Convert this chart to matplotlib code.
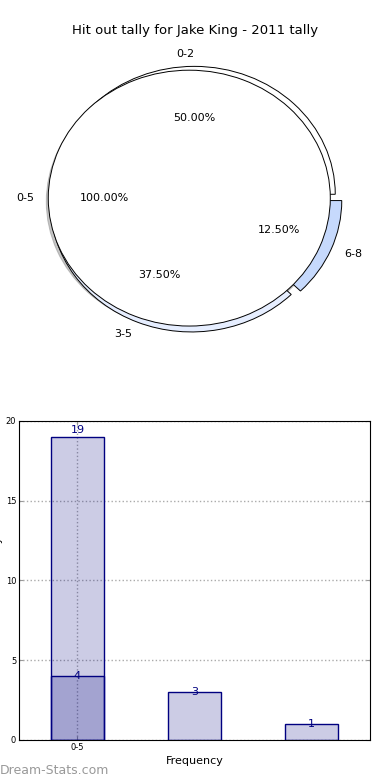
import numpy as np
import matplotlib
matplotlib.use('Agg')
import matplotlib.pyplot as plt

# pie data
pie_labels = ['0-2', '3-5', '6-8']
pie_values = [50.0, 37.5, 12.5]
pie_colors = ['#ffffff', '#e6eeff', '#c6d9fc']
pie_explode = [0.03, 0.05, 0.05]

total_labels = ['0-5']
total_values = [100.0]

# bar data
bar_pos = [0, 1, 2]
bar_light = [19, 3, 1]
bar_dark_pos = [0]
bar_dark = [4]
tick_labels = ['0-5']

fig = plt.figure(figsize=(3.9, 7.8), dpi=100)
fig.text(0.5, 0.961, 'Hit out tally for Jake King - 2011 tally', ha='center', va='center', fontsize=9.5)

# ---- pie ----
ax1 = fig.add_axes([0.046, 0.541, 0.904, 0.410])
w1, t1, a1 = ax1.pie(pie_values, labels=pie_labels, colors=pie_colors, explode=pie_explode,
                     autopct='%1.2f%%', startangle=0, radius=1.0,
                     wedgeprops=dict(edgecolor='black', linewidth=0.7),
                     textprops=dict(fontsize=8))
w2, t2, a2 = ax1.pie(total_values, labels=total_labels, colors=['white'], explode=[0.035],
                     autopct='%1.2f%%', startangle=0, radius=1.0,
                     shadow=dict(ox=-0.01, oy=-0.02, shade=0.45),
                     wedgeprops=dict(edgecolor='black', linewidth=0.7),
                     textprops=dict(fontsize=8))
ax1.set_aspect('auto')
ax1.set_xlim(-1.25, 1.25)
ax1.set_ylim(-1.25, 1.25)

# ---- bars ----
ax2 = fig.add_axes([0.0487, 0.0513, 0.9, 0.409])
ax2.bar(bar_pos, bar_light, width=0.45, color='navy', alpha=0.2, zorder=2)
ax2.bar(bar_pos, bar_light, width=0.45, fill=False, edgecolor='navy', linewidth=1.0, zorder=3)
ax2.bar(bar_dark_pos, bar_dark, width=0.45, color='navy', alpha=0.2, zorder=2)
ax2.bar(bar_dark_pos, bar_dark, width=0.45, fill=False, edgecolor='navy', linewidth=1.0, zorder=3)

for x, v in zip(bar_pos, bar_light):
    top = v == max(bar_light)
    ax2.text(x, v + (0.15 if top else 0.0), str(v), ha='center',
             va='bottom' if top else 'center', color='navy', fontsize=8, zorder=4)
for x, v in zip(bar_dark_pos, bar_dark):
    ax2.text(x, v, str(v), ha='center', va='center', color='navy', fontsize=8, zorder=4)

ax2.set_xlim(-0.5, 2.5)
ax2.set_ylim(0, 20)
ax2.set_yticks([0, 5, 10, 15, 20])
ax2.set_xticks([0])
ax2.set_xticklabels(tick_labels)
ax2.tick_params(labelsize=6, length=3, color='#999999', pad=2, direction='in',
                right=True, top=True)
ax2.grid(True, linestyle=':', color='#aaaaaa', linewidth=1.0, zorder=1)
ax2.set_axisbelow(True)
ax2.set_xlabel('Frequency', fontsize=8, labelpad=3)
fig.text(0.0077, 0.256, 'Stat Hitout Tally', rotation=90, ha='right', va='center', fontsize=8)

fig.text(0.0, 0.004, 'Dream-Stats.com', ha='left', va='bottom', fontsize=9,
         color='#999999')

fig.savefig('out.png', dpi=100)
